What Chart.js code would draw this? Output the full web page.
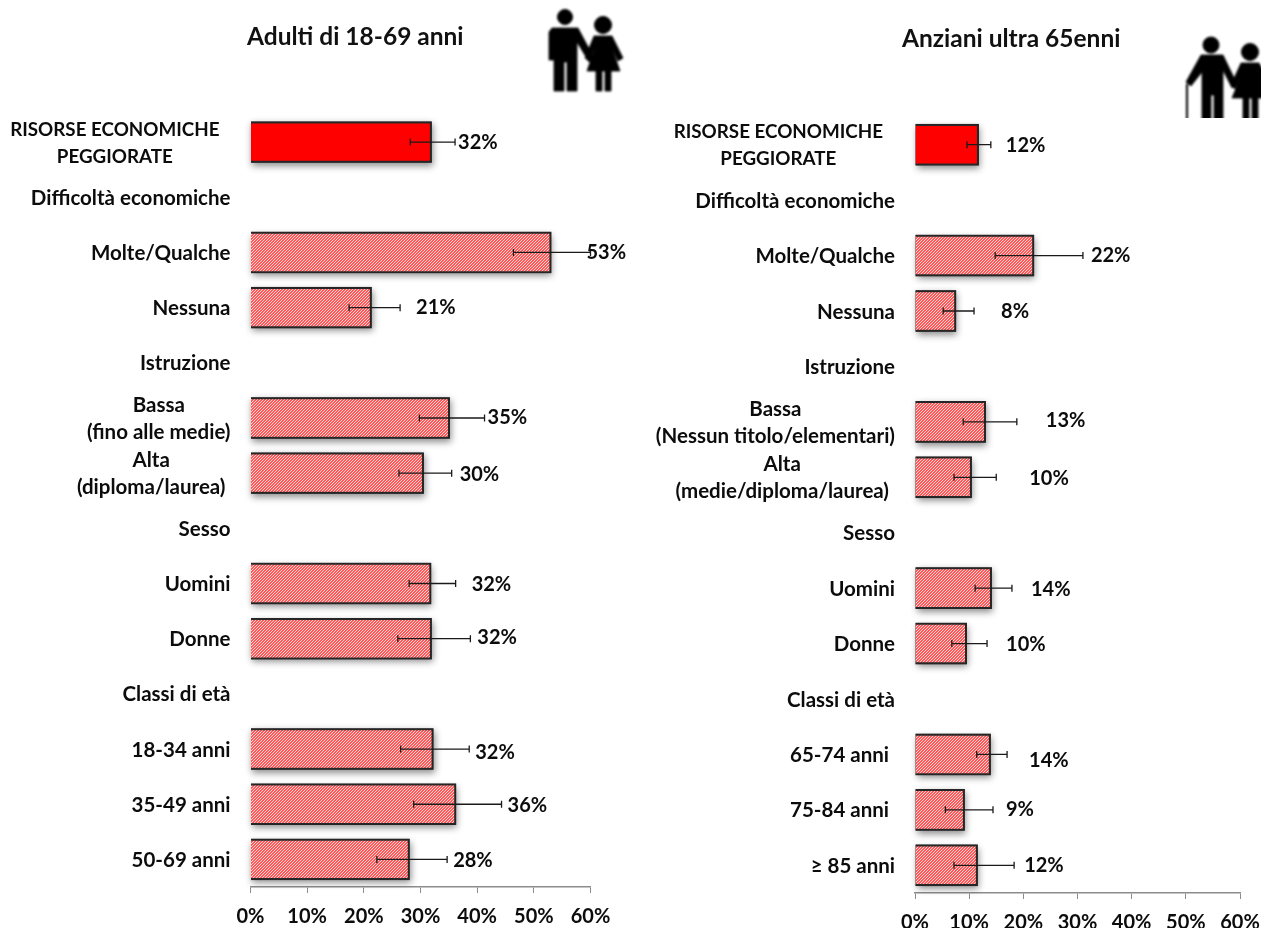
<!DOCTYPE html>
<html>
<head>
<meta charset="utf-8">
<title>Risorse economiche peggiorate</title>
<script src="https://cdn.jsdelivr.net/npm/chart.js@4"></script>
<style>
  html, body { margin: 0; padding: 0; background: #fff; width: 1261px; height: 928px; overflow: hidden; }
  canvas { position: absolute; top: 0; }
  #chartAdulti { left: 0; }
  #chartAnziani { left: 640px; }
  .title { position: absolute; font: bold 24.5px Lato, sans-serif; color: #111; white-space: nowrap; }
  svg { position: absolute; left: 0; top: 0; }
</style>
</head>
<body>
<canvas id="chartAdulti" width="640" height="928"></canvas>
<canvas id="chartAnziani" width="621" height="928"></canvas>
<div class="title" style="left:247px;top:21px">Adulti di 18-69 anni</div>
<div class="title" style="left:902px;top:23px">Anziani ultra 65enni</div>

<!-- the two pictograms next to the titles -->
<svg width="1261" height="928">
  <defs>
    <filter id="soft"><feGaussianBlur stdDeviation="0.8"/></filter>
    <clipPath id="cut"><rect x="1160" y="20" width="101" height="98"/></clipPath>
  </defs>
  <g filter="url(#soft)" fill="#000" stroke="#000">
    <circle cx="565" cy="17" r="7.5"/>
    <path d="M552 28 H578 L594 58 L589 62 L577 42 V91 H567 V62 H564 V91 H554 V42 L555 60 H549 V32 Z" stroke-width="0.8"/>
    <circle cx="603" cy="25" r="8.5"/>
    <path d="M594 36 H612 L623 58 L618 61 L612 48 L620 71 H611 V91 H605 V71 H602 V91 H596 V71 H587 L595 48 L589 61 L585 58 Z" stroke-width="0.8"/>
  </g>
  <g clip-path="url(#cut)">
    <g filter="url(#soft)" fill="#000" stroke="#000">
      <circle cx="1211" cy="45" r="8"/>
      <path d="M1201 55 H1223 L1237 84 L1232 88 L1223 70 V125 H1214 V95 H1211 V125 H1202 V72 L1191 86 L1186 82 Z" stroke-width="0.8"/>
      <path d="M1187 84 V125" fill="none" stroke-width="2"/>
      <circle cx="1250" cy="52" r="8.5"/>
      <path d="M1241 63 H1259 L1270 84 V98 H1258 V125 H1252 V98 H1249 V125 H1243 V98 H1232 L1241 76 L1235 89 L1231 85 Z" stroke-width="0.8"/>
    </g>
  </g>
</svg>

<script>
// Categories, blank values are the section headings
const categorieAdulti = [
  ["RISORSE ECONOMICHE", "PEGGIORATE"], "Difficoltà economiche", "Molte/Qualche", "Nessuna",
  "Istruzione", ["Bassa", "(fino alle medie)"], ["Alta", "(diploma/laurea)"],
  "Sesso", "Uomini", "Donne",
  "Classi di età", "18-34 anni", "35-49 anni", "50-69 anni"
];
const categorieAnziani = [
  ["RISORSE ECONOMICHE", "PEGGIORATE"], "Difficoltà economiche", "Molte/Qualche", "Nessuna",
  "Istruzione", ["Bassa", "(Nessun titolo/elementari)"], ["Alta", "(medie/diploma/laurea)"],
  "Sesso", "Uomini", "Donne",
  "Classi di età", "65-74 anni", "75-84 anni", "≥ 85 anni"
];

// Values (%)
const valoriAdulti = [32, null, 53.1, 21.4, null, 35.2, 30.6, null, 31.9, 32, null, 32.3, 36.3, 28.1];
const minAdulti    = [28.2, null, 46.4, 17.4, null, 29.8, 26.2, null, 28, 26, null, 26.5, 28.8, 22.3];
const maxAdulti    = [36.1, null, 60, 26.4, null, 41.3, 35.5, null, 36.2, 38.8, null, 38.6, 44.3, 34.7];
const etichetteAdulti = [32, null, 53, 21, null, 35, 30, null, 32, 32, null, 32, 36, 28];

const valoriAnziani = [11.8, null, 22, 7.6, null, 13.1, 10.5, null, 14.2, 9.6, null, 14, 9.2, 11.6];
const minAnziani    = [9.6, null, 14.8, 5.2, null, 8.9, 7.2, null, 11.1, 6.8, null, 11.4, 5.6, 7.2];
const maxAnziani    = [14, null, 31, 10.9, null, 18.8, 15, null, 17.9, 13.3, null, 17, 14.4, 18.3];
const etichetteAnziani = [12, null, 22, 8, null, 13, 10, null, 14, 10, null, 14, 9, 12];

// Hand placement of the text, the original slide was placed by hand too
const gapAdulti = [3, null, -4, 16, null, 3, 8, null, 16, 7, null, 6, 6, 6];
const dyAdulti  = [0, null, 0, 0, null, 0, 1, null, 1, -1, null, 3, 1, 1];
const insetAdulti = [11, 0, 0, 0, 0, 0, 5, 0, 0, 0, 0, 0, 0, 0];
const gapAnziani = [15, null, 8, 27, null, 29, 33, null, 19, 19, null, 22, 13, 10];
const dyAnziani  = [1, null, 0, 1, null, -1, 1, null, 1, 1, null, 6, 0, 0];
const insetAnziani = [12, 0, 0, 0, 0, 0, 6, 0, 0, 0, 0, 6, 6, 0];

const FONT = "bold 20.5px Lato, sans-serif";
const FONT_CAPS = "bold 18.8px Lato, sans-serif";
const FONT_VALUE = "bold 20px Lato, sans-serif";
const TEXT = "#0c0c0c";

// Fine diagonal red/white hatch
function hatch() {
  const c = document.createElement("canvas");
  c.width = c.height = 3;
  const g = c.getContext("2d");
  g.fillStyle = "#ff2222";
  g.fillRect(0, 0, 3, 3);
  g.strokeStyle = "#ffe0e0";
  g.lineWidth = 1.1;
  g.beginPath();
  g.moveTo(-1, 1); g.lineTo(1, -1);
  g.moveTo(-1, 4); g.lineTo(4, -1);
  g.moveTo(2, 4); g.lineTo(4, 2);
  g.stroke();
  return g.createPattern(c, "repeat");
}

// Bar shadow, whiskers, value labels and the left hand labels
const decor = {
  id: "decor",
  beforeDatasetsDraw(chart) {
    // the bar element clips to itself, so its shadow goes underneath on its own
    const ctx = chart.ctx;
    ctx.save();
    ctx.shadowColor = "rgba(0,0,0,0.45)";
    ctx.shadowBlur = 7;
    ctx.shadowOffsetY = 3;
    ctx.shadowOffsetX = 1;
    ctx.fillStyle = "#333";
    chart.getDatasetMeta(0).data.forEach(b => {
      if (b.skip || !b.width) return;
      ctx.fillRect(b.base, b.y - b.height / 2, b.x - b.base, b.height);
    });
    ctx.restore();
  },
  afterDatasetsDraw(chart, args, o) {
    const ctx = chart.ctx, x = chart.scales.x, y = chart.scales.y;
    ctx.save();
    ctx.strokeStyle = "#1a1a1a";
    ctx.lineWidth = 1.3;
    ctx.font = FONT_VALUE;
    ctx.fillStyle = TEXT;
    ctx.textBaseline = "middle";
    o.values.forEach((v, i) => {
      if (v === null) return;
      const py = y.getPixelForValue(i);
      const x0 = x.getPixelForValue(o.low[i]);
      const x1 = x.getPixelForValue(o.high[i]);
      ctx.beginPath();
      ctx.moveTo(x0, py); ctx.lineTo(x1, py);
      ctx.moveTo(x0, py - 3.5); ctx.lineTo(x0, py + 3.5);
      ctx.moveTo(x1, py - 3.5); ctx.lineTo(x1, py + 3.5);
      ctx.stroke();
      ctx.textAlign = "left";
      ctx.fillText(o.shown[i] + "%", x1 + o.gap[i], py + o.dy[i]);
    });
    // category labels: lines centred inside a right aligned block
    o.labels.forEach((lab, i) => {
      const lines = [].concat(lab);
      ctx.font = i === 0 ? FONT_CAPS : FONT;
      const w = Math.max(...lines.map(l => ctx.measureText(l).width));
      const right = x.left - 20 - o.inset[i];
      const py = y.getPixelForValue(i) + 1;
      ctx.textAlign = "center";
      lines.forEach((l, k) => {
        ctx.fillText(l, right - w / 2, py + (k - (lines.length - 1) / 2) * 27);
      });
    });
    ctx.restore();
  }
};

function makeChart(id, labels, values, low, high, shown, gap, dy, inset, pad, axisHeight) {
  const pattern = hatch();
  new Chart(document.getElementById(id), {
    type: "bar",
    data: {
      labels: labels.map(l => [].concat(l).join(" ")),
      datasets: [{
        data: values,
        backgroundColor: values.map((v, i) => i === 0 ? "#ff0000" : pattern),
        borderColor: "#262626",
        borderWidth: 2,
        barPercentage: 0.75,
        categoryPercentage: 1
      }]
    },
    plugins: [decor],
    options: {
      indexAxis: "y",
      responsive: false,
      animation: false,
      layout: { padding: pad },
      plugins: {
        legend: { display: false },
        tooltip: { enabled: false },
        decor: { labels, values, low, high, shown, gap, dy, inset }
      },
      scales: {
        y: { display: false },
        x: {
          min: 0,
          max: 60,
          afterFit: s => { s.height = axisHeight; s.paddingLeft = 0; s.paddingRight = 0; },
          border: { color: "#8c8c8c", width: 1.5 },
          grid: { drawOnChartArea: false, color: "#8c8c8c", tickLength: 6 },
          ticks: {
            stepSize: 10,
            maxRotation: 0,
            padding: 12,
            color: TEXT,
            font: { family: "Lato, sans-serif", size: 20, weight: "bold" },
            callback: v => v + "%"
          }
        }
      }
    }
  });
}

makeChart("chartAdulti", categorieAdulti, valoriAdulti, minAdulti, maxAdulti, etichetteAdulti,
  gapAdulti, dyAdulti, insetAdulti, { left: 250.5, right: 49.5, top: 114.5, bottom: 0 }, 41);
makeChart("chartAnziani", categorieAnziani, valoriAnziani, minAnziani, maxAnziani, etichetteAnziani,
  gapAnziani, dyAnziani, insetAnziani, { left: 275, right: 21, top: 117, bottom: 0 }, 35);
</script>
</body>
</html>
